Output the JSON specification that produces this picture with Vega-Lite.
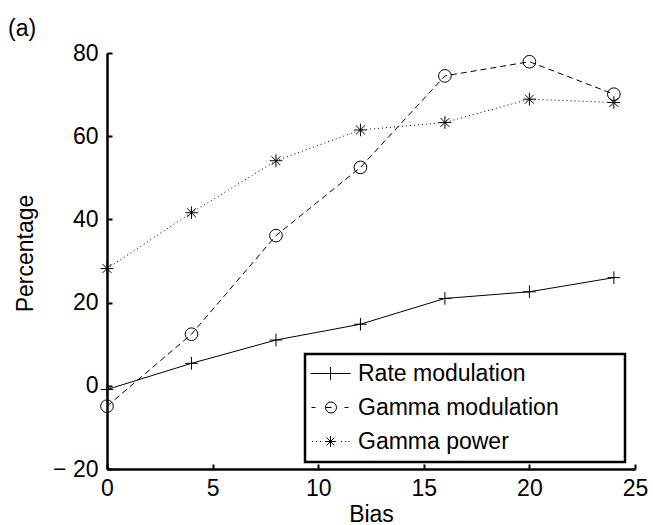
{
  "$schema": "https://vega.github.io/schema/vega-lite/v6.json",
  "width": 528,
  "height": 416,
  "autosize": "none",
  "padding": {"left": 107, "top": 53, "right": 18, "bottom": 56},
  "background": "white",
  "title": {
    "text": "(a)",
    "anchor": "start",
    "frame": "group",
    "dx": -99,
    "dy": 27,
    "offset": 10,
    "baseline": "alphabetic",
    "font": "Liberation Sans",
    "fontSize": 23,
    "fontWeight": "normal",
    "color": "black"
  },
  "data": {
    "values": [
      {"bias": 0, "pct": -0.9, "series": "Rate modulation"},
      {"bias": 4, "pct": 5.4, "series": "Rate modulation"},
      {"bias": 8, "pct": 11.0, "series": "Rate modulation"},
      {"bias": 12, "pct": 14.8, "series": "Rate modulation"},
      {"bias": 16, "pct": 21.0, "series": "Rate modulation"},
      {"bias": 20, "pct": 22.6, "series": "Rate modulation"},
      {"bias": 24, "pct": 26.0, "series": "Rate modulation"},
      {"bias": 0, "pct": -4.9, "series": "Gamma modulation"},
      {"bias": 4, "pct": 12.4, "series": "Gamma modulation"},
      {"bias": 8, "pct": 36.1, "series": "Gamma modulation"},
      {"bias": 12, "pct": 52.5, "series": "Gamma modulation"},
      {"bias": 16, "pct": 74.5, "series": "Gamma modulation"},
      {"bias": 20, "pct": 77.9, "series": "Gamma modulation"},
      {"bias": 24, "pct": 70.1, "series": "Gamma modulation"},
      {"bias": 0, "pct": 28.2, "series": "Gamma power"},
      {"bias": 4, "pct": 41.6, "series": "Gamma power"},
      {"bias": 8, "pct": 54.1, "series": "Gamma power"},
      {"bias": 12, "pct": 61.5, "series": "Gamma power"},
      {"bias": 16, "pct": 63.3, "series": "Gamma power"},
      {"bias": 20, "pct": 68.9, "series": "Gamma power"},
      {"bias": 24, "pct": 68.1, "series": "Gamma power"}
    ]
  },
  "encoding": {
    "x": {
      "field": "bias",
      "type": "quantitative",
      "title": "Bias",
      "scale": {"domain": [0, 25], "nice": false, "zero": false},
      "axis": {
        "values": [0, 5, 10, 15, 20, 25],
        "labelPadding": 13,
        "titleY": 52,
        "titleBaseline": "alphabetic"
      }
    },
    "y": {
      "field": "pct",
      "type": "quantitative",
      "title": "Percentage",
      "scale": {"domain": [-20, 80], "nice": false, "zero": false},
      "axis": {
        "values": [-20, 0, 20, 40, 60, 80],
        "labelPadding": 14,
        "labelExpr": "datum.value < 0 ? '\u2212 ' + format(-datum.value, 'd') : datum.label",
        "titleX": -75,
        "titleY": 200,
        "titleBaseline": "alphabetic"
      }
    }
  },
  "layer": [
    {
      "transform": [{"filter": "datum.series === 'Rate modulation'"}],
      "mark": {"type": "line", "color": "black", "strokeWidth": 1}
    },
    {
      "transform": [{"filter": "datum.series === 'Gamma modulation'"}],
      "mark": {"type": "line", "color": "black", "strokeWidth": 1, "strokeDash": [6, 4]}
    },
    {
      "transform": [{"filter": "datum.series === 'Gamma power'"}],
      "mark": {"type": "line", "color": "black", "strokeWidth": 1, "strokeDash": [1, 3]}
    },
    {
      "transform": [{"filter": "datum.series === 'Rate modulation'"}],
      "mark": {"type": "point", "filled": false, "stroke": "black", "strokeWidth": 1, "opacity": 1, "size": 160, "shape": "M-1,0H1M0,-1V1"}
    },
    {
      "transform": [{"filter": "datum.series === 'Gamma modulation'"}],
      "mark": {"type": "point", "filled": false, "stroke": "black", "strokeWidth": 1, "opacity": 1, "size": 160, "shape": "circle"}
    },
    {
      "transform": [{"filter": "datum.series === 'Gamma power'"}],
      "mark": {"type": "point", "filled": false, "stroke": "black", "strokeWidth": 1, "opacity": 1, "size": 160, "shape": "M-1,0H1M0,-1V1M-0.7,-0.7L0.7,0.7M-0.7,0.7L0.7,-0.7"}
    },
    {
      "mark": {"type": "point", "filled": false, "stroke": "black", "strokeWidth": 1, "opacity": 0},
      "encoding": {
        "shape": {
          "field": "series",
          "type": "nominal",
          "scale": {
            "domain": ["Rate modulation", "Gamma modulation", "Gamma power"],
            "range": [
              "M-1.4,0H2.6M0.6,-0.65V0.65",
              "M-1.3,0H-0.9M0.1,0H0.7M2,0H2.4M1.2,0A0.55,0.55 0 1,1 0.1,0A0.55,0.55 0 1,1 1.2,0",
              "M-1.25,0H-1.15M-0.85,0H-0.75M-0.45,0H-0.35M1.65,0H1.75M2.05,0H2.15M2.4,0H2.5M0.05,0H1.15M0.6,-0.55V0.55M0.21,-0.39L0.99,0.39M0.21,0.39L0.99,-0.39"
            ]
          },
          "legend": {
            "title": null,
            "orient": "none",
            "legendX": 198,
            "legendY": 301,
            "padding": 8,
            "rowPadding": 10,
            "symbolSize": 400,
            "symbolOpacity": 1,
            "symbolStrokeWidth": 1,
            "symbolStrokeColor": "black",
            "symbolFillColor": "transparent",
            "labelOffset": 22,
            "labelFont": "Liberation Sans",
            "labelFontSize": 23,
            "labelColor": "black",
            "labelLimit": 400,
            "labelExpr": "datum.label + '\\u00a0\\u00a0\\u00a0\\u00a0\\u00a0\\u00a0\\u00a0\\u00a0\\u00a0\\u200d'",
            "strokeColor": "black",
            "fillColor": "white"
          }
        }
      }
    }
  ],
  "config": {
    "view": {"stroke": null},
    "font": "Liberation Sans",
    "axis": {
      "grid": false,
      "domainColor": "black",
      "domainWidth": 2.5,
      "tickColor": "black",
      "tickWidth": 2,
      "tickSize": -5,
      "labelFont": "Liberation Sans",
      "labelFontSize": 23,
      "labelColor": "black",
      "titleFont": "Liberation Sans",
      "titleFontSize": 23,
      "titleFontWeight": "normal",
      "titleColor": "black",
      "labelFlush": false,
      "labelOverlap": false
    },
    "legend": {"strokeWidth": 2.5}
  }
}
